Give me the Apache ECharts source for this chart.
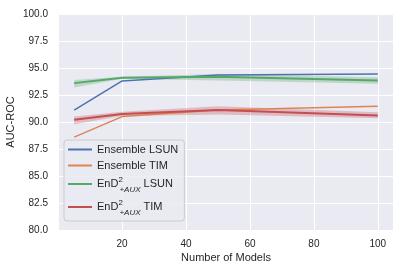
<!DOCTYPE html>
<html><head><meta charset="utf-8">
<script src="https://cdn.jsdelivr.net/npm/echarts@6/dist/echarts.min.js"></script>
<style>html,body{margin:0;padding:0;background:#fff}#c{width:406px;height:271px}</style>
</head><body><div id="c"></div>
<script>
var models = [5, 20, 50, 100];
var xTicks = [20, 40, 60, 80, 100];
var ensLsun = [91.1, 93.8, 94.35, 94.45];
var ensTim = [88.6, 90.5, 91.1, 91.45];
var endLsun = [93.6, 94.1, 94.2, 93.85];
var endLsunLo = [93.2, 94.0, 93.85, 93.55];
var endLsunHi = [93.9, 94.2, 94.45, 94.15];
var endTim = [90.2, 90.75, 91.1, 90.6];
var endTimLo = [89.8, 90.55, 90.7, 90.35];
var endTimHi = [90.5, 90.95, 91.45, 90.9];
var names = ['Ensemble LSUN', 'Ensemble TIM', 'EnD2+AUX LSUN', 'EnD2+AUX TIM'];
var colors = ['#4c72b0', '#dd8452', '#55a868', '#c44e52'];

function pairs(ys) { return models.map(function (x, i) { return [x, ys[i]]; }); }

var font = 'Liberation Sans, Arial, sans-serif';
var txt = '#262626';
var series = [];
function band(lo, hi, color) {
  var data = models.map(function (x, i) { return [x, lo[i], hi[i]]; });
  series.push({
    type: 'custom', data: data, silent: true, z: 1, clip: true,
    encode: { x: 0, y: [1, 2] },
    renderItem: function (params, api) {
      if (params.dataIndex !== 0) return null;
      var top = [], bot = [];
      for (var i = 0; i < data.length; i++) {
        top.push(api.coord([data[i][0], data[i][2]]));
        bot.unshift(api.coord([data[i][0], data[i][1]]));
      }
      return { type: 'polygon', shape: { points: top.concat(bot) },
        style: { fill: color, opacity: 0.3 } };
    }
  });
}
band(endLsunLo, endLsunHi, colors[2]);
band(endTimLo, endTimHi, colors[3]);
series.push({ name: names[0], type: 'line', data: pairs(ensLsun), symbol: 'none', color: colors[0], lineStyle: { width: 1.5 }, z: 3 });
series.push({ name: names[1], type: 'line', data: pairs(ensTim), symbol: 'none', color: colors[1], lineStyle: { width: 1.5 }, z: 3 });
series.push({ name: names[2], type: 'line', data: pairs(endLsun), symbol: 'none', color: colors[2], lineStyle: { width: 2 }, z: 3 });
series.push({ name: names[3], type: 'line', data: pairs(endTim), symbol: 'none', color: colors[3], lineStyle: { width: 2 }, z: 3 });

var chart = echarts.init(document.getElementById('c'), null, { renderer: 'canvas' });
chart.setOption({
  animation: false,
  backgroundColor: '#ffffff',
  grid: { left: 59, right: 13, top: 14, bottom: 41, show: true, backgroundColor: '#eaeaf2', borderWidth: 0,
    containLabel: false, outerBoundsMode: 'none' },
  xAxis: {
    type: 'value', min: 0.25, max: 104.75,
    name: 'Number of Models', nameLocation: 'middle', nameGap: 22, nameMoveOverlap: false,
    nameTextStyle: { fontFamily: font, fontSize: 11, color: txt },
    axisLine: { show: false },
    axisTick: { show: false, customValues: xTicks },
    axisLabel: { customValues: xTicks, fontFamily: font, fontSize: 10, color: txt, margin: 9 },
    splitLine: { show: true, lineStyle: { color: '#ffffff', width: 1 } }
  },
  yAxis: {
    type: 'value', min: 80, max: 100, interval: 2.5,
    name: 'AUC-ROC', nameLocation: 'middle', nameGap: 43, nameRotate: 90, nameMoveOverlap: false,
    nameTextStyle: { fontFamily: font, fontSize: 11, color: txt },
    axisLine: { show: false }, axisTick: { show: false },
    axisLabel: { fontFamily: font, fontSize: 10, color: txt, margin: 11,
      formatter: function (v) { return v.toFixed(1); } },
    splitLine: { show: true, lineStyle: { color: '#ffffff', width: 1 } }
  },
  legend: {
    data: names, orient: 'vertical', left: 64, top: 140,
    icon: 'rect', itemWidth: 24, itemHeight: 2, itemGap: 5,
    padding: [4, 6, 4, 4],
    backgroundColor: 'rgba(234,234,242,0.8)', borderColor: '#cccccc', borderWidth: 1, borderRadius: 3,
    textStyle: { fontFamily: font, fontSize: 11, color: txt,
      rich: {
        a: { fontFamily: font, fontSize: 11, color: txt },
        sup: { fontFamily: font, fontSize: 8, color: txt, padding: [0, 0, 8, 0], width: 1 },
        sub: { fontFamily: font, fontSize: 8, color: txt, fontStyle: 'italic', padding: [12, 0, 0, 0] }
      } },
    formatter: function (n) {
      if (n.indexOf('EnD2+AUX') === 0) {
        return '{a|EnD}{sup|2}{sub|+AUX}{a|' + n.slice(8) + '}';
      }
      return n;
    }
  },
  series: series
});
</script></body></html>
